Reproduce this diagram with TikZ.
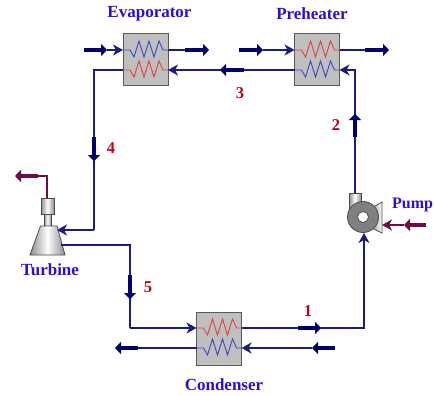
\documentclass[tikz,border=0pt]{standalone}
\usepackage{fontspec}
\setmainfont{Liberation Serif}
\usetikzlibrary{arrows.meta}
\definecolor{pipe}{HTML}{1C1C80}
\definecolor{fat}{HTML}{00006E}
\definecolor{maroon}{HTML}{6E0A46}
\definecolor{lbl}{HTML}{2A10D0}
\definecolor{num}{HTML}{C00010}
\definecolor{cblue}{HTML}{3A48C0}
\definecolor{cred}{HTML}{E04040}
\tikzset{
  x=1pt,y=-1pt,
  hxbox/.style={draw=black!65,fill=black!25,line width=1pt,minimum width=45pt,minimum height=52.5pt,inner sep=0pt,outer sep=0pt},
  pipeline/.style={draw=pipe,line width=1.5pt},
  pipetip/.style={pipeline,-{Stealth[length=10pt,width=11pt,inset=3pt]}},
  fatarrow/.style={draw=fat,line width=4.6pt,-{Triangle[length=6pt,width=12pt]}},
  mline/.style={draw=maroon,line width=1.5pt},
  mtip/.style={mline,-{Stealth[length=10pt,width=11pt,inset=3pt]}},
  matarrow/.style={draw=maroon,line width=4.6pt,-{Triangle[length=6pt,width=12pt]}},
  title/.style={text=lbl,font=\bfseries\fontsize{17}{17}\selectfont,inner sep=0pt},
  numlabel/.style={text=num,font=\bfseries\fontsize{16.5}{16.5}\selectfont,inner sep=0pt},
  blucoil/.style={draw=cblue,line width=.9pt},
  redcoil/.style={draw=cred,line width=.9pt},
  metal/.style={draw=black!70,line width=.8pt,left color=black!45,right color=black!45,middle color=white},
}
\newcommand{\hxcoil}[3]{% box centre x, y, style
  \draw[#3] (#1-22.5,#2) -- ++(7,0) -- ++(4,7) -- ++(5,-16) -- ++(5,16) -- ++(5,-16) -- ++(5,16) -- ++(5,-16) -- ++(4,9) -- (#1+22.5,#2);}
\begin{document}
\begin{tikzpicture}
\useasboundingbox (0,0) rectangle (434,396);
\fill[white] (0,0) rectangle (434,396);
% exchangers
\node[hxbox] (evap) at (145.5,59.5) {};
\node[hxbox] (pre) at (317,59.5) {};
\node[hxbox] (cond) at (219,339) {};
\hxcoil{145.5}{50}{blucoil}
\hxcoil{145.5}{70}{redcoil}
\hxcoil{317}{50}{redcoil}
\hxcoil{317}{70}{blucoil}
\hxcoil{219}{328}{redcoil}
\hxcoil{219}{348}{blucoil}
% named ports
\coordinate (evapTL) at (123,50); \coordinate (evapTR) at (168,50);
\coordinate (evapBL) at (123,70); \coordinate (evapBR) at (168,70);
\coordinate (preTL) at (294.5,50); \coordinate (preTR) at (339.5,50);
\coordinate (preBL) at (294.5,70); \coordinate (preBR) at (339.5,70);
\coordinate (condTL) at (196.5,328); \coordinate (condTR) at (241.5,328);
\coordinate (condBL) at (196.5,348); \coordinate (condBR) at (241.5,348);
% pump
\draw[metal] (349,193) rectangle (361,212);
\draw[metal,left color=black!60,right color=white,middle color=black!25] (382,202) -- (382,233) -- (368,226) -- (368,210) -- cycle;
\node[circle,draw=black!70,fill=black!50,line width=.8pt,minimum size=31pt,inner sep=0pt] (pump) at (363,217) {};
\node[circle,draw=black!70,fill=white,line width=.8pt,minimum size=11pt,inner sep=0pt] (pumphole) at (363,217) {};
% turbine
\draw[metal] (41,198) rectangle (54,214);
\draw[metal] (44,214) rectangle (51,226);
\draw[metal] (40.5,226) -- (57,226) -- (65,255) -- (30,255) -- cycle;
\coordinate (turbIn) at (57,230);
\coordinate (turbOut) at (61,245);
\coordinate (turbTop) at (47,198);
\coordinate (pumpIn) at (364,233);
\coordinate (pumpOut) at (355,193);
\coordinate (pumpSh) at (382,225);
% pipes
\draw[pipetip] (pumpOut) -- (355,70) -- (preBR);
\draw[pipeline] (preBL) -- (220,70);
\draw[pipetip] (220,70) -- (evapBR);
\draw[pipeline] (evapBL) -- (94,70) -- (94,230);
\draw[pipetip] (94,230) -- (turbIn);
\draw[pipeline] (turbOut) -- (130,245) -- (130,328);
\draw[pipetip] (130,328) -- (condTL);
\draw[pipetip] (condTR) -- (364,328) -- (pumpIn);
% utility lines
\coordinate (a1) at (84,50); \coordinate (a2) at (107,50);
\coordinate (b1) at (185,50); \coordinate (b2) at (209,50);
\coordinate (c1) at (239,50); \coordinate (c2) at (263,50);
\coordinate (d1) at (365,50); \coordinate (d2) at (389,50);
\coordinate (e1) at (335,348); \coordinate (e2) at (312,348);
\coordinate (f1) at (138,348); \coordinate (f2) at (115,348);
\draw[pipetip] (a2) -- (evapTL);
\draw[pipeline] (evapTR) -- (b1);
\draw[pipetip] (c2) -- (preTL);
\draw[pipeline] (preTR) -- (d1);
\draw[pipetip] (e2) -- (condBR);
\draw[pipeline] (condBL) -- (f1);
\draw[fatarrow] (a1) -- (a2);
\draw[fatarrow] (b1) -- (b2);
\draw[fatarrow] (c1) -- (c2);
\draw[fatarrow] (d1) -- (d2);
\draw[fatarrow] (e1) -- (e2);
\draw[fatarrow] (f1) -- (f2);
% in-line flow arrows
\coordinate (g1) at (244,70); \coordinate (g2) at (220,70);
\coordinate (h1) at (355,137); \coordinate (h2) at (355,114);
\coordinate (i1) at (94,137); \coordinate (i2) at (94,161);
\coordinate (j1) at (130,275); \coordinate (j2) at (130,299);
\coordinate (k1) at (298,328); \coordinate (k2) at (321,328);
\draw[fatarrow] (g1) -- (g2);
\draw[fatarrow] (h1) -- (h2);
\draw[fatarrow] (i1) -- (i2);
\draw[fatarrow] (j1) -- (j2);
\draw[fatarrow] (k1) -- (k2);
% shaft power
\coordinate (m1) at (38,176); \coordinate (m2) at (15,176);
\coordinate (n1) at (426,225); \coordinate (n2) at (404,225);
\draw[mline] (turbTop) -- (47,176) -- (m1);
\draw[matarrow] (m1) -- (m2);
\draw[mtip] (n2) -- (pumpSh);
\draw[matarrow] (n1) -- (n2);
% labels
\node[title] (tevap) at (149.5,14) {Evaporator};
\node[title] (tpre) at (312,14) {Preheater};
\node[title,anchor=west,font=\bfseries\fontsize{16}{16}\selectfont] (tpump) at (392,205) {Pump};
\node[title] (tturb) at (50,270) {Turbine};
\node[title] (tcond) at (224,385) {Condenser};
\node[numlabel] (n3) at (240,93) {3};
\node[numlabel] (n2l) at (336,125) {2};
\node[numlabel] (n4) at (111,148) {4};
\node[numlabel] (n5) at (148,287) {5};
\node[numlabel] (n1l) at (308,311) {1};
\end{tikzpicture}
\end{document}
